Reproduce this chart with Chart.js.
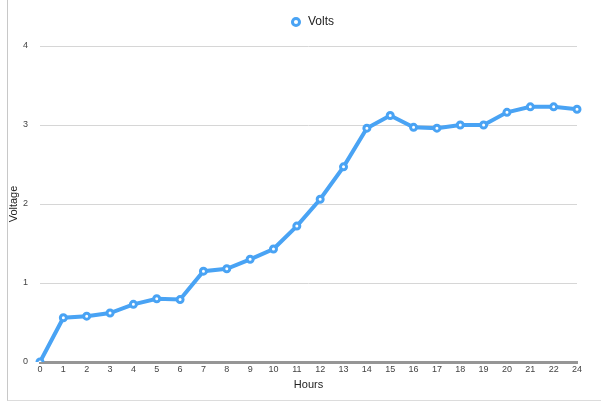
<!DOCTYPE html>
<html>
<head>
<meta charset="utf-8">
<script src="https://cdn.jsdelivr.net/npm/chart.js@4/dist/chart.umd.min.js"></script>
<style>
  html, body { margin: 0; padding: 0; background: #fff; }
  #wrap { position: relative; width: 601px; height: 403px; }
  #frame {
    position: absolute; left: 7px; top: 0; width: 594px; height: 401px;
    border-left: 1px solid #c8c8c8; border-bottom: 1px solid #dcdcdc;
    box-sizing: border-box;
  }
  #chart { position: absolute; left: 0; top: 0; }
</style>
</head>
<body>
<div id="wrap">
  <div id="frame"></div>
  <canvas id="chart" width="601" height="403"></canvas>
</div>
<script>
// Hours of the test run (hour 23 was not logged)
const hours = ['0','1','2','3','4','5','6','7','8','9','10','11','12','13','14','15','16','17','18','19','20','21','22','24'];
// Measured cell voltage at each hour
const volts = [0, 0.56, 0.58, 0.62, 0.73, 0.80, 0.79, 1.15, 1.18, 1.30, 1.43, 1.72, 2.06, 2.47, 2.96, 3.12, 2.97, 2.96, 3.00, 3.00, 3.16, 3.23, 3.23, 3.20];
const yTicks = [0, 1, 2, 3, 4];

const blue = '#49a3f4';
const font = 'Helvetica, Arial, "Liberation Sans", sans-serif';

// Centre the legend over the plot rather than over the whole canvas
const legendShift = {
  id: 'legendShift',
  afterLayout(chart) {
    const lg = chart.legend;
    if (lg) { lg.left += 20; lg.right += 20; }
  }
};

new Chart(document.getElementById('chart'), {
  type: 'line',
  data: {
    labels: hours,
    datasets: [{
      label: 'Volts',
      data: volts,
      borderColor: blue,
      backgroundColor: '#ffffff',
      borderWidth: 4,
      pointRadius: 3,
      pointBorderWidth: 3,
      pointBorderColor: blue,
      pointBackgroundColor: '#ffffff',
      tension: 0,
      fill: false
    }]
  },
  plugins: [legendShift],
  options: {
    responsive: false,
    animation: false,
    devicePixelRatio: 1,
    layout: { padding: { left: 7, right: 24, top: 4, bottom: 11 } },
    plugins: {
      tooltip: { enabled: false },
      // empty spacer box between the legend and the plot area
      title: {
        display: true,
        text: '',
        weight: 500,
        padding: { top: 7, bottom: 0 },
        font: { size: 1, lineHeight: 1 }
      },
      legend: {
        display: true,
        position: 'top',
        labels: {
          usePointStyle: true,
          pointStyle: 'circle',
          boxWidth: 12,
          boxHeight: 5,
          padding: 12,
          color: '#222',
          font: { family: font, size: 12 }
        }
      }
    },
    scales: {
      x: {
        offset: false,
        grid: { display: false, drawTicks: false },
        border: { display: true, color: '#969696', width: 3 },
        ticks: {
          color: '#444',
          padding: 2,
          autoSkip: false,
          maxRotation: 0,
          font: { family: font, size: 9 }
        },
        title: {
          display: true,
          text: 'Hours',
          color: '#222',
          padding: { top: 0, bottom: 0 },
          font: { family: font, size: 11 }
        },
        afterFit: (scale) => { scale.height = 30; }
      },
      y: {
        min: 0,
        max: 4,
        afterBuildTicks: (scale) => { scale.ticks = yTicks.map(v => ({ value: v })); },
        grid: { color: '#d6d6d6', lineWidth: 1, drawTicks: false },
        border: { display: false },
        ticks: {
          color: '#444',
          padding: 12,
          font: { family: font, size: 9 }
        },
        title: {
          display: true,
          text: 'Voltage',
          color: '#222',
          padding: { top: 0, bottom: 0 },
          font: { family: font, size: 11 }
        },
        afterFit: (scale) => { scale.width = 33; }
      }
    }
  }
});
</script>
</body>
</html>
